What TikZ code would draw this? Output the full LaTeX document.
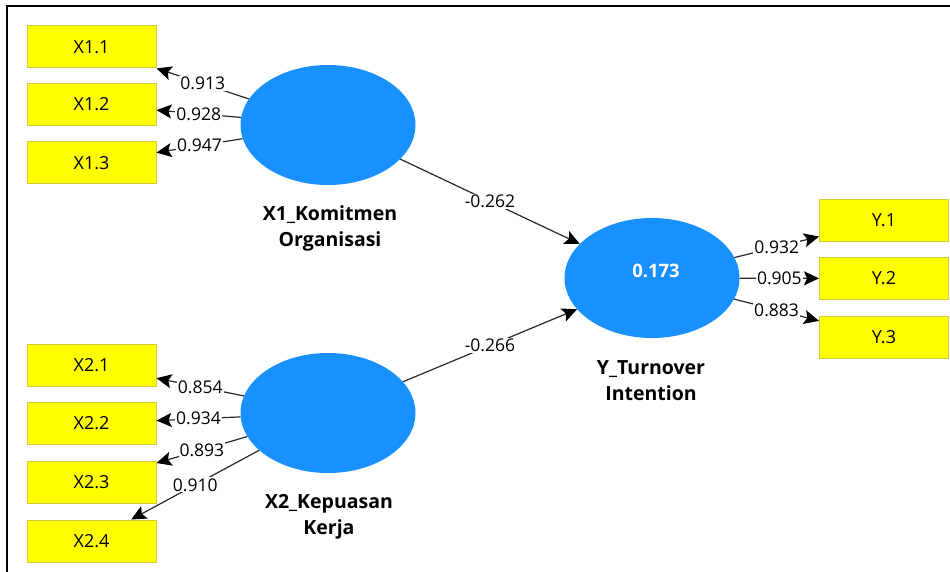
\documentclass[tikz,border=0pt]{standalone}
\usepackage{fontspec}
\setmainfont{Open Sans}
\usetikzlibrary{arrows.meta,shapes.geometric}
\definecolor{lvblue}{RGB}{24,145,255}
\definecolor{mvyellow}{RGB}{255,255,0}
\definecolor{mvborder}{RGB}{205,205,60}
\definecolor{lineclr}{RGB}{40,40,40}
\begin{document}
\begin{tikzpicture}[x=1pt,y=-1pt,
  indicator/.style={draw=mvborder, fill=mvyellow, minimum width=129pt, minimum height=42pt, inner sep=0pt, line width=1pt, font=\fontsize{18}{20}\selectfont},
  latent/.style={ellipse, fill=lvblue, minimum width=175pt, minimum height=120pt, inner sep=0pt},
  lvname/.style={font=\bfseries\fontsize{19.5}{26}\selectfont, align=center},
  rsq/.style={text=white, font=\bfseries\fontsize{18.5}{20}\selectfont},
  load/.style={draw=lineclr, line width=1.2pt, -{Stealth[length=15pt,width=14pt,inset=3pt,fill=black,color=black]}},
  coef/.style={fill=white, inner sep=1pt, font=\fontsize{17.5}{20}\selectfont}]
\useasboundingbox (0,0) rectangle (950,572);
\draw[line width=2pt] (7,572) -- (7,6) -- (950,6);

% indicators
\node[indicator] (X11) at (91.5,47) {X1.1};
\node[indicator] (X12) at (91.5,104.5) {X1.2};
\node[indicator] (X13) at (91.5,163) {X1.3};
\node[indicator] (X21) at (91.5,365) {X2.1};
\node[indicator] (X22) at (91.5,423.5) {X2.2};
\node[indicator] (X23) at (91.5,482) {X2.3};
\node[indicator] (X24) at (91.5,541) {X2.4};
\node[indicator] (Y1) at (884,220.5) {Y.1};
\node[indicator] (Y2) at (884,278.5) {Y.2};
\node[indicator] (Y3) at (884,337.5) {Y.3};

% latent variables
\node[latent] (X1) at (328,125) {};
\node[latent] (X2) at (328,413) {};
\node[latent] (Y) at (652,278) {};
\node[rsq] (Yr) at (656,271) {0.173};

\node[lvname] (X1lab) at (330,228) {X1\_Komitmen\\Organisasi};
\node[lvname] (X2lab) at (329,517) {X2\_Kepuasan\\Kerja};
\node[lvname] (Ylab) at (651,381) {Y\_Turnover\\Intention};

% outer loadings
\draw[load] (X1) -- node[coef] {0.913} (X11);
\draw[load] (X1) -- node[coef] {0.928} (X12);
\draw[load] (X1) -- node[coef] {0.947} (X13);
\draw[load] (X2) -- node[coef] {0.854} (X21);
\draw[load] (X2) -- node[coef] {0.934} (X22);
\draw[load] (X2) -- node[coef] {0.893} (X23);
\draw[load] (X2) -- node[coef] {0.910} (X24);
\draw[load] (Y) -- node[coef] {0.932} (Y1);
\draw[load] (Y) -- node[coef] {0.905} (Y2);
\draw[load] (Y) -- node[coef] {0.883} (Y3);

% path coefficients
\draw[load] (X1) -- node[coef] {-0.262} (Y);
\draw[load] (X2) -- node[coef] {-0.266} (Y);
\end{tikzpicture}
\end{document}
